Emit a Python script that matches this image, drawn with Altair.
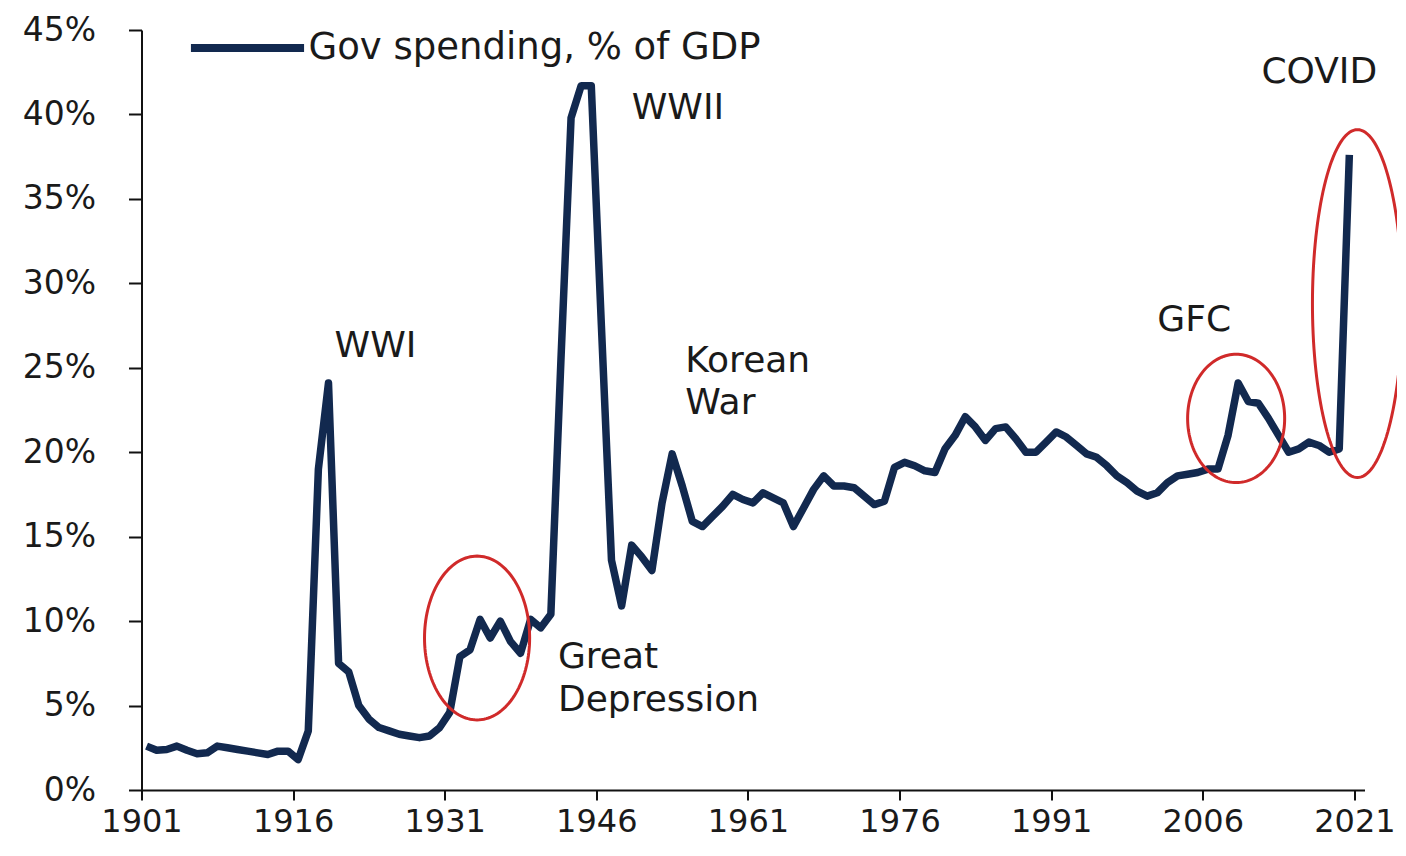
import altair as alt
import pandas as pd
import numpy as np

# ---------------- data ----------------
years = list(range(1901, 2021))
spending = [
    2.6, 2.35, 2.4, 2.6, 2.35, 2.15, 2.2, 2.6, 2.5, 2.4,      # 1901-1910
    2.3, 2.2, 2.1, 2.3, 2.3, 1.8, 3.5, 19.0, 24.1, 7.5,       # 1911-1920
    7.0, 5.0, 4.2, 3.7, 3.5, 3.3, 3.2, 3.1, 3.2, 3.7,         # 1921-1930
    4.6, 7.9, 8.3, 10.1, 9.0, 10.0, 8.8, 8.1, 10.1, 9.6,      # 1931-1940
    10.4, 25.5, 39.8, 41.7, 41.7, 27.5, 13.6, 10.9, 14.5, 13.8,  # 1941-1950
    13.0, 17.0, 19.9, 18.0, 15.9, 15.6, 16.2, 16.8, 17.5, 17.2,  # 1951-1960
    17.0, 17.6, 17.3, 17.0, 15.6, 16.7, 17.8, 18.6, 18.0, 18.0,  # 1961-1970
    17.9, 17.4, 16.9, 17.1, 19.1, 19.4, 19.2, 18.9, 18.8, 20.2,  # 1971-1980
    21.0, 22.1, 21.5, 20.7, 21.4, 21.5, 20.8, 20.0, 20.0, 20.6,  # 1981-1990
    21.2, 20.9, 20.4, 19.9, 19.7, 19.2, 18.6, 18.2, 17.7, 17.4,  # 1991-2000
    17.6, 18.2, 18.6, 18.7, 18.8, 19.0, 19.0, 21.0, 24.1, 23.0,  # 2001-2010
    22.9, 22.0, 21.0, 20.0, 20.2, 20.6, 20.4, 20.0, 20.2, 37.6,  # 2011-2020
]
series_name = "Gov spending, % of GDP"

x_ticks = [1901, 1916, 1931, 1946, 1961, 1976, 1991, 2006, 2021]
y_ticks = [0, 5, 10, 15, 20, 25, 30, 35, 40, 45]

ann_labels = ["WWI", "WWII", "Korean", "War", "Great", "Depression", "GFC", "COVID"]
ann_year = [1920.1, 1949.5, 1954.8, 1954.8, 1942.2, 1942.2, 2001.5, 2011.8]
ann_value = [26.3, 40.4, 25.4, 22.9, 7.9, 5.3, 27.8, 42.5]

ell_names = ["Great Depression", "GFC", "COVID"]
ell_cx = [1934.2, 2009.3, 2021.3]
ell_cy = [9.0, 22.0, 28.8]
ell_rx = [5.2, 4.8, 4.45]
ell_ry = [4.85, 3.8, 10.3]

NAVY = "#12294f"
RED = "#d02a2a"
TXT = "#1a1a1a"
FONT = "DejaVu Sans"

# ---------------- tables ----------------
df = pd.DataFrame({"year": years, "value": spending, "series": series_name})
ann = pd.DataFrame({"label": ann_labels, "year": ann_year, "value": ann_value})

theta = np.linspace(0, 2 * np.pi, 145)
rows = []
for n, cx, cy, rx, ry in zip(ell_names, ell_cx, ell_cy, ell_rx, ell_ry):
    for i, th in enumerate(theta):
        rows.append({"name": n, "i": i, "ex": cx + rx * np.cos(th), "ey": cy + ry * np.sin(th)})
ell = pd.DataFrame(rows)

x_scale = alt.Scale(domain=[1901, 2022], nice=False, zero=False)
y_scale = alt.Scale(domain=[0, 45], nice=False, zero=True)

x_axis = alt.Axis(
    values=x_ticks, format="d", title=None, grid=False,
    domainColor="#111", domainWidth=2, tickColor="#111", tickWidth=2, tickSize=10,
    labelFont=FONT, labelFontSize=32, labelColor=TXT, labelPadding=6,
    labelFlush=False, labelOverlap=False,
)
y_axis = alt.Axis(
    values=y_ticks, labelExpr="datum.value + '%'", title=None, grid=False,
    domainColor="#111", domainWidth=2, tickColor="#111", tickWidth=2, tickSize=13,
    labelFont=FONT, labelFontSize=33, labelColor=TXT, labelPadding=33,
    labelFlush=False, labelOverlap=False,
)

line = alt.Chart(df).transform_calculate(t="datum.year + 0.5").mark_line(
    strokeWidth=7.5, strokeJoin="round", strokeCap="butt"
).encode(
    x=alt.X("t:Q", scale=x_scale, axis=x_axis),
    y=alt.Y("value:Q", scale=y_scale, axis=y_axis),
    color=alt.Color(
        "series:N",
        scale=alt.Scale(range=[NAVY]),
        legend=alt.Legend(
            orient="none", legendX=45, legendY=-43, title=None,
            symbolType="stroke", symbolSize=12800, symbolStrokeWidth=8,
            labelFont=FONT, labelFontSize=37, labelColor=TXT, labelOffset=0,
            padding=0, labelLimit=800,
        ),
    ),
)

ellipses = alt.Chart(ell).mark_line(strokeWidth=3, color=RED, clip=False).encode(
    x=alt.X("ex:Q", scale=x_scale),
    y=alt.Y("ey:Q", scale=y_scale),
    detail="name:N",
    order="i:Q",
)

texts = alt.Chart(ann).mark_text(
    align="left", baseline="middle", font=FONT, fontSize=36, color=TXT
).encode(
    x=alt.X("year:Q", scale=x_scale),
    y=alt.Y("value:Q", scale=y_scale),
    text="label:N",
)

chart = alt.layer(line, ellipses, texts).properties(
    width=1223,
    height=760,
    padding={"left": 133.5, "top": 22, "right": 32, "bottom": 56},
    autosize=alt.AutoSizeParams(type="none"),
    background="white",
).configure_view(stroke=None)

chart.save("out.html", embed_options={"renderer": "svg", "actions": False})
